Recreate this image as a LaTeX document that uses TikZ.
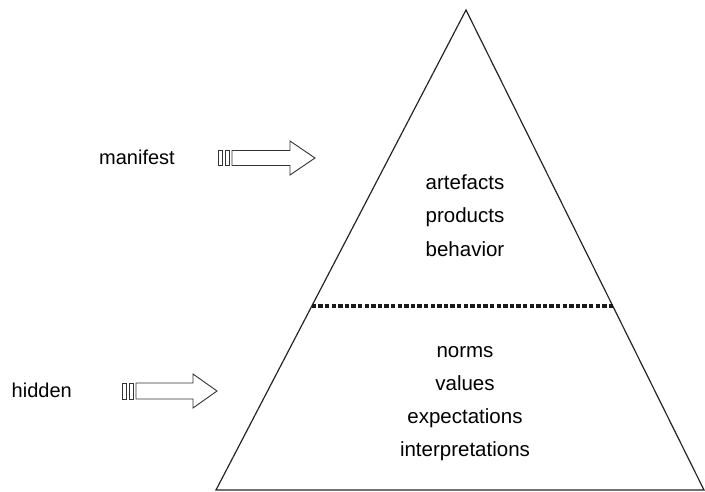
\documentclass[tikz,border=0pt]{standalone}
\usepackage{fontspec}
\setmainfont{Liberation Sans}
\usetikzlibrary{calc,positioning}
\tikzset{
  layer/.style={font=\fontsize{20.5}{24}\selectfont, anchor=base, inner sep=0pt},
  level/.style={font=\fontsize{20}{24}\selectfont, anchor=base east, inner sep=0pt},
  pyramid/.style={draw=black!85, line width=1.2pt, line join=miter},
  divider/.style={draw=black!90, line width=4pt, dash pattern=on 4.4pt off 2.2pt},
  fatarrow/.style={draw=black!80, line width=0.9pt, fill=white, line join=miter},
  tailbar/.style={draw=black!80, line width=0.9pt}
}
\begin{document}
\begin{tikzpicture}[x=1pt, y=-1pt]
  \useasboundingbox (0,0) rectangle (705,492);
  % pyramid
  \coordinate (top) at (466,10);
  \coordinate (bl) at (216,490);
  \coordinate (br) at (704,490);
  \draw[pyramid] (top) -- (bl) -- (br) -- cycle;
  \coordinate (cutl) at ($(top)!0.617!(bl)$);
  \coordinate (cutr) at ($(top)!0.617!(br)$);
  \draw[divider] (cutl) -- (cutr);
  % upper part
  \node[layer] (artefacts) at (465,190) {artefacts};
  \node[layer] (products) at (465,223) {products};
  \node[layer] (behavior) at (465,257) {behavior};
  % lower part
  \node[layer] (norms) at (465,357) {norms};
  \node[layer] (values) at (465,390) {values};
  \node[layer] (expect) at (465,423) {expectations};
  \node[layer] (interp) at (465,456) {interpretations};
  % side labels and arrows
  \node[level] (manifest) at (175,165) {manifest};
  \node[level] (hidden) at (72,397) {hidden};
  \draw[tailbar, shift={(232,158)}] (-14,-7.5) rectangle (-10,7.5) (-7,-7.5) rectangle (-3,7.5);
  \draw[fatarrow, shift={(232,158)}] (0,-7.5) -- (58,-7.5) -- (58,-17) -- (83,0) -- (58,17) -- (58,7.5) -- (0,7.5) -- cycle;
  \draw[tailbar, shift={(136,391)}] (-14,-8) rectangle (-10,8) (-7,-8) rectangle (-3,8);
  \draw[fatarrow, shift={(136,391)}] (0,-8) -- (57,-8) -- (57,-17) -- (81,0) -- (57,17) -- (57,8) -- (0,8) -- cycle;
\end{tikzpicture}
\end{document}
